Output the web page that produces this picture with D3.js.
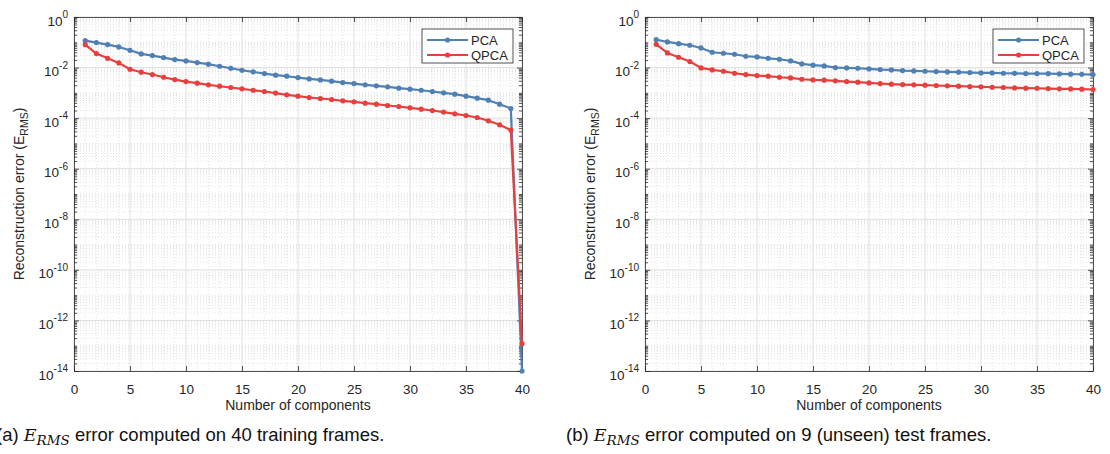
<!DOCTYPE html>
<html>
<head>
<meta charset="utf-8">
<script src="https://cdn.jsdelivr.net/npm/d3@7"></script>
<style>
  body { margin: 0; background: #fff; }
  svg text { font-family: "Liberation Sans", Arial, sans-serif; fill: #262626; }
</style>
</head>
<body>
<div id="canvas"></div>
<script>
// number of components on the x axis
var components = d3.range(1, 41);
var xTicks = [0, 5, 10, 15, 20, 25, 30, 35, 40];
var yTickExps = [-14, -12, -10, -8, -6, -4, -2, 0];
var seriesNames = ["PCA", "QPCA"];

// (a) 40 training frames
var trainPCA = [0.116, 0.0970, 0.0809, 0.0655, 0.0483, 0.0347, 0.0298, 0.0248, 0.0207, 0.0183,
                0.0158, 0.0136, 0.0113, 0.00942, 0.00785, 0.00676, 0.00579, 0.00501, 0.00455, 0.00403,
                0.00357, 0.00326, 0.00289, 0.00256, 0.00233, 0.00207, 0.00189, 0.00173, 0.00153, 0.00140,
                0.00127, 0.00113, 0.00100, 0.000885, 0.000738, 0.000615, 0.000514, 0.000357, 0.000241, 1e-14];
var trainQPCA = [0.0809, 0.0357, 0.0233, 0.0153, 0.00859, 0.00655, 0.00530, 0.00415, 0.00336, 0.00280,
                 0.00241, 0.00207, 0.00183, 0.00163, 0.00144, 0.00127, 0.00113, 0.00098, 0.000834, 0.000738,
                 0.000655, 0.000597, 0.000546, 0.000483, 0.000442, 0.000391, 0.000357, 0.000316, 0.000289, 0.000256,
                 0.000226, 0.000201, 0.000173, 0.000148, 0.000127, 0.000106, 0.0000785, 0.0000546, 0.0000336, 1.2e-13];

// (b) 9 unseen test frames
var testPCA = [0.127, 0.103, 0.0885, 0.0762, 0.0597, 0.0403, 0.0368, 0.0336, 0.0280, 0.0264,
               0.0233, 0.0213, 0.0183, 0.0140, 0.0124, 0.0116, 0.0100, 0.00971, 0.00942, 0.00885,
               0.00834, 0.00809, 0.00762, 0.00738, 0.00716, 0.00695, 0.00675, 0.00655, 0.00635, 0.00615,
               0.00612, 0.00597, 0.00594, 0.00579, 0.00577, 0.00575, 0.00562, 0.00546, 0.00545, 0.00530];
var testQPCA = [0.0834, 0.0379, 0.0256, 0.0173, 0.00971, 0.00809, 0.00716, 0.00597, 0.00530, 0.00483,
                0.00455, 0.00415, 0.00391, 0.00346, 0.00326, 0.00316, 0.00298, 0.00280, 0.00264, 0.00248,
                0.00233, 0.00220, 0.00213, 0.00207, 0.00201, 0.00195, 0.00189, 0.00183, 0.00178, 0.00173,
                0.00167, 0.00163, 0.00157, 0.00153, 0.00152, 0.00148, 0.00144, 0.00143, 0.00140, 0.00136];

var captionPrefix = ["(a) ", "(b) "];
var captionSuffix = [" error computed on 40 training frames.", " error computed on 9 (unseen) test frames."];

var colors = ["#4f80b3", "#e6403e"];

var width = 1110, height = 454;
var plotW = 448, plotH = 354, plotTop = 17;

var svg = d3.select("div#canvas").append("svg")
  .attr("width", width)
  .attr("height", height);

var x = d3.scaleLinear().domain([0, 40]).range([0, plotW]);
var y = d3.scaleLog().domain([1e-14, 1]).range([plotH, 0]);

// minor log positions: 2..9 in each decade plus the odd decades
var minorY = [];
for (var k = -14; k < 0; k++) {
  for (var m = 1; m < 10; m++) {
    if (m == 1 && k % 2 == 0) continue;
    minorY.push(m * Math.pow(10, k));
  }
}

function drawPanel(left, idx, series) {
  var g = svg.append("g").attr("transform", "translate(" + left + "," + plotTop + ")");

  // grid
  g.selectAll("line.minx").data(d3.range(1, 40).filter(function(d) { return d % 5 != 0; }))
    .enter().append("line")
    .attr("x1", x).attr("x2", x).attr("y1", 0).attr("y2", plotH)
    .attr("stroke", "#d0d0d0").attr("stroke-width", 0.6).attr("stroke-dasharray", "1,2");
  g.selectAll("line.miny").data(minorY)
    .enter().append("line")
    .attr("x1", 0).attr("x2", plotW).attr("y1", y).attr("y2", y)
    .attr("stroke", "#d0d0d0").attr("stroke-width", 0.6).attr("stroke-dasharray", "1,2");
  g.selectAll("line.majx").data(xTicks)
    .enter().append("line")
    .attr("x1", x).attr("x2", x).attr("y1", 0).attr("y2", plotH)
    .attr("stroke", "#e0e0e0").attr("stroke-width", 1);
  g.selectAll("line.majy").data(yTickExps)
    .enter().append("line")
    .attr("x1", 0).attr("x2", plotW)
    .attr("y1", function(d) { return y(Math.pow(10, d)); })
    .attr("y2", function(d) { return y(Math.pow(10, d)); })
    .attr("stroke", "#e0e0e0").attr("stroke-width", 1);

  // axes with inward ticks
  var bottom = g.append("g").attr("transform", "translate(0," + plotH + ")")
    .call(d3.axisBottom(x).tickValues(xTicks).tickSize(-5).tickPadding(13).tickSizeOuter(0));
  bottom.selectAll("text").style("font-size", "13.5px").attr("fill", "#262626");
  g.append("g").call(d3.axisTop(x).tickValues(xTicks).tickSize(-5).tickFormat("").tickSizeOuter(0));

  g.append("g")
    .call(d3.axisLeft(y).tickValues(yTickExps.map(function(e) { return Math.pow(10, e); }))
      .tickSize(-5).tickFormat("").tickSizeOuter(0));
  g.append("g").call(d3.axisLeft(y).tickValues(minorY).tickSize(-3).tickFormat("").tickSizeOuter(0))
    .select(".domain").remove();
  g.append("g").attr("transform", "translate(" + plotW + ",0)")
    .call(d3.axisRight(y).tickValues(yTickExps.map(function(e) { return Math.pow(10, e); }))
      .tickSize(-5).tickFormat("").tickSizeOuter(0));
  g.append("g").attr("transform", "translate(" + plotW + ",0)")
    .call(d3.axisRight(y).tickValues(minorY).tickSize(-3).tickFormat("").tickSizeOuter(0))
    .select(".domain").remove();
  g.selectAll(".domain, .tick line").attr("stroke", "#262626").attr("stroke-width", 0.8);

  // y tick labels 10^n
  var yl = g.selectAll("text.ylab").data(yTickExps).enter().append("text")
    .attr("class", "ylab")
    .attr("x", -6)
    .attr("y", function(d) { return y(Math.pow(10, d)) + 8.5; })
    .attr("text-anchor", "end")
    .style("font-size", "13.5px");
  yl.append("tspan").text("10");
  yl.append("tspan").attr("dy", -7.5).style("font-size", "10px").text(function(d) { return d; });

  // axis titles
  g.append("text")
    .attr("x", plotW / 2).attr("y", plotH + 39)
    .attr("text-anchor", "middle")
    .style("font-size", "14px")
    .text("Number of components");

  var yt = g.append("text")
    .attr("transform", "translate(-50," + (plotH / 2) + ") rotate(-90)")
    .attr("text-anchor", "middle")
    .style("font-size", "14px");
  yt.append("tspan").text("Reconstruction error (E");
  yt.append("tspan").attr("dy", 4).style("font-size", "10.5px").text("RMS");
  yt.append("tspan").attr("dy", -4).text(")");

  // data lines
  var line = d3.line()
    .x(function(d, i) { return x(components[i]); })
    .y(function(d) { return y(d); });

  series.forEach(function(vals, s) {
    g.append("path").datum(vals)
      .attr("d", line)
      .attr("fill", "none")
      .attr("stroke", colors[s])
      .attr("stroke-width", 2.2)
      .attr("stroke-linejoin", "round");
    g.selectAll("circle.s" + s).data(vals).enter().append("circle")
      .attr("cx", function(d, i) { return x(components[i]); })
      .attr("cy", function(d) { return y(d); })
      .attr("r", 2.6)
      .attr("fill", colors[s]);
  });

  // legend
  var lg = g.append("g").attr("transform", "translate(" + (plotW - 100) + ",12)");
  lg.append("rect").attr("width", 91).attr("height", 34)
    .attr("fill", "#fff").attr("stroke", "#262626").attr("stroke-width", 0.8);
  seriesNames.forEach(function(name, s) {
    var ly = 11 + s * 15;
    lg.append("line").attr("x1", 5).attr("x2", 46).attr("y1", ly).attr("y2", ly)
      .attr("stroke", colors[s]).attr("stroke-width", 2.2);
    lg.append("circle").attr("cx", 25.5).attr("cy", ly).attr("r", 2.6).attr("fill", colors[s]);
    lg.append("text").attr("x", 49).attr("y", ly).attr("dy", "0.36em")
      .style("font-size", "13px").text(name);
  });

  // caption
  var cap = svg.append("text")
    .attr("x", idx == 0 ? -4 : 566)
    .attr("y", 441)
    .style("font-size", "18.5px")
    .style("fill", "#111");
  cap.append("tspan").text(captionPrefix[idx]);
  cap.append("tspan").style("font-family", "'DejaVu Serif', 'Liberation Serif', serif")
    .style("font-style", "italic").style("font-size", "17.5px").text("E");
  cap.append("tspan").attr("dy", 4).style("font-family", "'DejaVu Serif', 'Liberation Serif', serif")
    .style("font-style", "italic").style("font-size", "13.5px").text("RMS");
  cap.append("tspan").attr("dy", -4).text(captionSuffix[idx]);
}

drawPanel(74, 0, [trainPCA, trainQPCA]);
drawPanel(645, 1, [testPCA, testQPCA]);
</script>
</body>
</html>
